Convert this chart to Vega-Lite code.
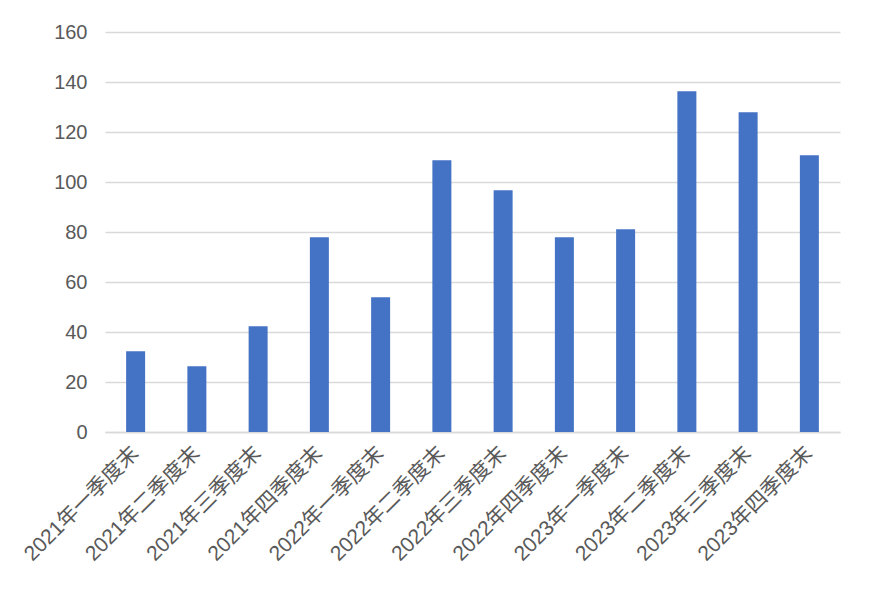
{
  "$schema": "https://vega.github.io/schema/vega-lite/v6.json",
  "autosize": "none",
  "width": 735,
  "height": 400,
  "padding": {"left": 105, "top": 32, "right": 32, "bottom": 162},
  "background": "white",
  "data": {"values": [
    {"q": "2021年一季度末", "v": 32.3},
    {"q": "2021年二季度末", "v": 26.3},
    {"q": "2021年三季度末", "v": 42.3},
    {"q": "2021年四季度末", "v": 77.9},
    {"q": "2022年一季度末", "v": 53.9},
    {"q": "2022年二季度末", "v": 108.7},
    {"q": "2022年三季度末", "v": 96.7},
    {"q": "2022年四季度末", "v": 77.9},
    {"q": "2023年一季度末", "v": 81.1},
    {"q": "2023年二季度末", "v": 136.3},
    {"q": "2023年三季度末", "v": 127.9},
    {"q": "2023年四季度末", "v": 110.7}
  ]},
  "mark": {"type": "bar", "color": "#4472C4"},
  "encoding": {
    "x": {
      "field": "q", "type": "nominal", "sort": null, "title": null,
      "scale": {"paddingInner": 0.69, "paddingOuter": 0.345},
      "axis": {
        "labelAngle": -45, "labelAlign": "right", "labelBaseline": "middle",
        "labelFontSize": 21, "labelColor": "#595959", "labelFont": "Liberation Sans, Noto Sans CJK SC",
        "ticks": false, "tickSize": 0, "labelPadding": 18,
        "domainColor": "#d9d9d9", "domainWidth": 1.5, "grid": false
      }
    },
    "y": {
      "field": "v", "type": "quantitative", "title": null,
      "scale": {"domain": [0, 160], "nice": false},
      "axis": {
        "values": [0, 20, 40, 60, 80, 100, 120, 140, 160],
        "labelFontSize": 20, "labelColor": "#595959", "labelFont": "Liberation Sans, Noto Sans CJK SC",
        "ticks": false, "tickSize": 0, "labelPadding": 18, "domain": false,
        "gridColor": "#d9d9d9", "gridWidth": 1.5
      }
    }
  },
  "config": {"view": {"stroke": null}}
}
